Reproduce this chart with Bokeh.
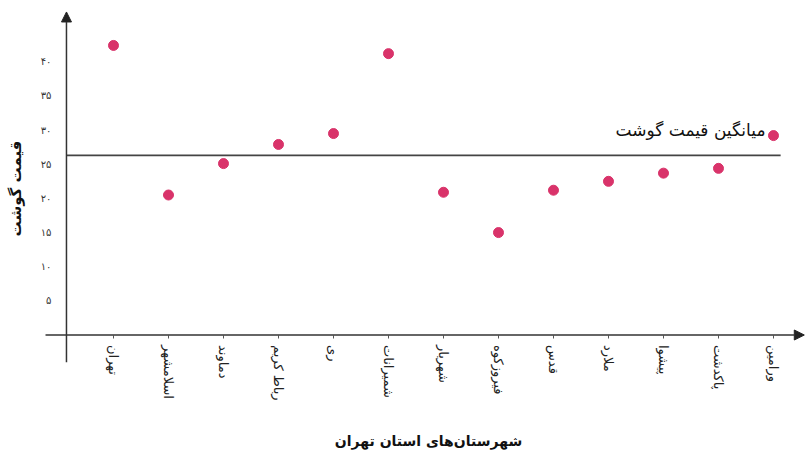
import math
from bokeh.plotting import figure
from bokeh.models import Range1d, FixedTicker, Arrow, NormalHead, Label, ColumnDataSource
from bokeh.embed import file_html
from bokeh.resources import INLINE

# ---- data ----
cities = ["تهران", "اسلامشهر", "دماوند", "رباط کریم", "ری", "شمیرانات", "شهریار",
          "فیروزکوه", "قدس", "ملارد", "پیشوا", "پاکدشت", "ورامین"]
prices = [42.4, 20.5, 25.1, 27.9, 29.5, 41.2, 20.9, 15.0, 21.2, 22.5, 23.7, 24.4, 29.2]
avg_price = 26.3
avg_label = "میانگین قیمت گوشت"
y_ticks = [5, 10, 15, 20, 25, 30, 35, 40]
y_tick_labels = ["۵", "۱۰", "۱۵", "۲۰", "۲۵", "۳۰", "۳۵", "۴۰"]
x_title = "شهرستان‌های استان تهران"
y_title = "قیمت گوشت"

FONT = "DejaVu Sans"
idx = list(range(len(cities)))
x_axis_pos = -0.855   # where the vertical axis crosses

p = figure(width=805, height=456, output_backend="svg", toolbar_location=None,
           x_range=Range1d(-2.0545, 12.582), y_range=Range1d(-17.79, 48.98),
           min_border_left=0, min_border_right=0, min_border_top=0, min_border_bottom=0)
p.outline_line_color = None
p.xgrid.visible = False
p.ygrid.visible = False
p.background_fill_color = "white"

# x axis
xa = p.xaxis[0]
xa.fixed_location = 0
xa.ticker = FixedTicker(ticks=idx)
xa.major_label_overrides = {i: c for i, c in zip(idx, cities)}
xa.major_label_orientation = "vertical"
xa.major_label_text_font = FONT
xa.major_label_text_font_size = "13px"
xa.major_label_text_color = "#222222"
xa.major_label_standoff = 7
xa.major_tick_out = 3
xa.major_tick_in = 0
xa.major_tick_line_color = "#555555"
xa.minor_tick_line_color = None
xa.axis_line_color = None

# y axis
ya = p.yaxis[0]
ya.fixed_location = x_axis_pos
ya.ticker = FixedTicker(ticks=y_ticks)
ya.major_label_overrides = {t: l for t, l in zip(y_ticks, y_tick_labels)}
ya.major_label_text_font = FONT
ya.major_label_text_font_size = "10px"
ya.major_label_text_color = "#333333"
ya.major_label_standoff = 15
ya.major_tick_out = 0
ya.major_tick_in = 0
ya.minor_tick_line_color = None
ya.axis_line_color = None

# axis lines with arrows
p.add_layout(Arrow(end=NormalHead(size=10, fill_color="#222222", line_color="#222222"),
                   x_start=-1.236, y_start=0, x_end=12.56, y_end=0,
                   line_color="#333333", line_width=1.5))
p.add_layout(Arrow(end=NormalHead(size=10, fill_color="#222222", line_color="#222222"),
                   x_start=x_axis_pos, y_start=-4.0, x_end=x_axis_pos, y_end=47.3,
                   line_color="#333333", line_width=1.5))

# average line
p.segment(x0=[x_axis_pos], y0=[avg_price], x1=[12.13], y1=[avg_price],
          line_color="#444444", line_width=1.6)

# points
src = ColumnDataSource(dict(x=idx, y=prices))
p.scatter("x", "y", source=src, size=10, fill_color="#d9336a", line_color="#d9336a")

# average label
p.add_layout(Label(x=idx[-1], y=avg_price, x_offset=-8, y_offset=25, text=avg_label,
                   text_align="right", text_baseline="middle", text_font=FONT,
                   text_font_size="17px", text_color="#111111"))

# titles
p.add_layout(Label(x=15, y=268, x_units="screen", y_units="screen", text=y_title,
                   angle=math.pi / 2, text_align="center", text_baseline="middle",
                   text_font=FONT, text_font_size="15px", text_font_style="bold",
                   text_color="#111111"))
p.add_layout(Label(x=428, y=16, x_units="screen", y_units="screen", text=x_title,
                   text_align="center", text_baseline="middle",
                   text_font=FONT, text_font_size="14px", text_font_style="bold",
                   text_color="#111111"))

open("out.html", "w").write(file_html(p, INLINE))
